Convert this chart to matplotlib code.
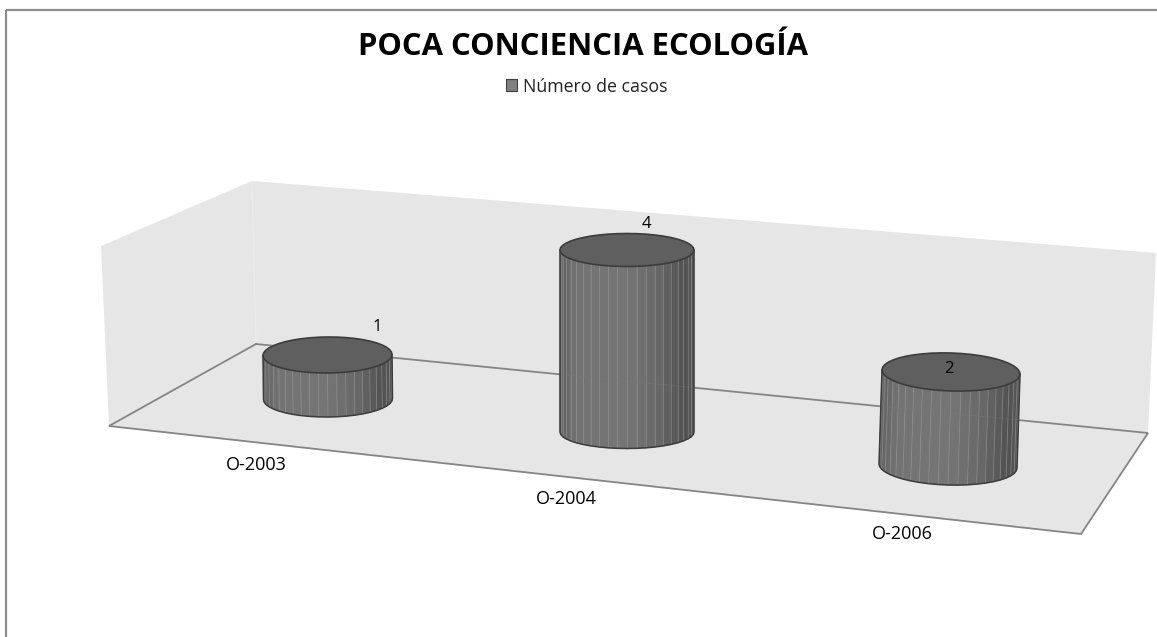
import numpy as np
import matplotlib
matplotlib.use("Agg")
import matplotlib.pyplot as plt
from matplotlib.patches import Polygon, Patch

# ---- data ----
categories = ["O-2003", "O-2004", "O-2006"]
values = [1, 4, 2]
series_name = "Número de casos"
title = "POCA CONCIENCIA ECOLOGÍA"

# ---- pseudo-3D layout (pixels) ----
W, H = 1157, 637
base_x = [328, 627, 948]
base_y = [399, 432, 466]
unit_px = [44.0, 45.5, 47.0]
lean_px = [-0.5, 0.0, 1.5]
radius_x = [64.5, 67, 69]
radius_y = [18, 16.5, 19]
tilt = [-0.008, 0.0, 0.03]
label_off = [(50, -28), (19, -26), (-2, -3)]
cat_xy = [(256, 465), (566, 499), (902, 534)]

fig = plt.figure(figsize=(W / 100, H / 100), dpi=100, facecolor="white")
ax = fig.add_axes([0, 0, 1, 1])
ax.set_xlim(0, W)
ax.set_ylim(H, 0)
ax.axis("off")

FILL = "#e6e6e6"
EDGE = "#858585"
ax.add_patch(Polygon([(101, 246), (252, 181), (256, 344), (109, 426)], fc=FILL, ec="none", zorder=1))
ax.add_patch(Polygon([(252, 181), (1156, 253), (1148, 433), (256, 344)], fc=FILL, ec="none", zorder=1))
ax.plot([252, 256], [181, 344], color="#ececec", lw=0.8, zorder=1.2)
ax.add_patch(Polygon([(109, 426), (256, 344), (1148, 433), (1081, 534)], fc=FILL, ec="none", zorder=1))
ax.plot([256, 109, 1081, 1148, 256], [344, 426, 534, 433, 344], color=EDGE, lw=1.3, zorder=2,
        solid_joinstyle="miter")

# chart frame
ax.plot([5.5, 5.5], [H, 9.5], color="#8c8c8c", lw=1.6, zorder=2, solid_capstyle="butt")
ax.plot([5.5, W], [9.5, 9.5], color="#8c8c8c", lw=1.6, zorder=2, solid_capstyle="butt")


def ring(cx, cy, rx, ry, t, theta):
    x = cx + rx * np.cos(theta)
    y = cy + ry * np.sin(theta) + t * rx * np.cos(theta)
    return x, y


stops_u = [0.0, 0.12, 0.5, 0.75, 0.92, 1.0]
stops_g = [0.38, 0.45, 0.46, 0.40, 0.32, 0.34]
N = 22
for i, v in enumerate(values):
    cx, cy = base_x[i], base_y[i]
    tx, ty = cx + lean_px[i] * v, cy - unit_px[i] * v
    rx, ry, t = radius_x[i], radius_y[i], tilt[i]
    th = np.linspace(np.pi, 0, N + 1)
    bx, by = ring(cx, cy, rx, ry, t, th)
    ux, uy = ring(tx, ty, rx, ry, t, th)
    for k in range(N):
        u = (0.5 * (bx[k] + bx[k + 1]) - cx + rx) / (2 * rx)
        g = np.interp(u, stops_u, stops_g)
        ax.add_patch(Polygon([(bx[k], by[k]), (bx[k + 1], by[k + 1]), (ux[k + 1], uy[k + 1]), (ux[k], uy[k])],
                             fc=(g, g, g), ec=(g, g, g), lw=0.3, zorder=3))
        if k:
            ax.plot([bx[k], ux[k]], [by[k], uy[k]], color="#9a9a9a", lw=0.6, alpha=0.55, zorder=3.1)
    # faint back-edge line seen through the cylinder
    yl = 344 + (cx - rx - 256) * 89 / 892
    yr = 344 + (cx + rx - 256) * 89 / 892
    if yl > ty:
        ax.plot([cx - rx, cx + rx], [yl, yr], color="#808080", lw=0.8, alpha=0.25, zorder=3.2)
    # outline of the side
    ox = np.r_[ux[0], bx, ux[-1]]
    oy = np.r_[uy[0], by, uy[-1]]
    ax.plot(ox, oy, color="#3c3c3c", lw=1.1, zorder=3.5, solid_joinstyle="round")
    # top cap
    th2 = np.linspace(0, 2 * np.pi, 2 * N + 1)[:-1]
    capx, capy = ring(tx, ty, rx, ry, t, th2)
    ax.add_patch(Polygon(np.c_[capx, capy], closed=True, fc="#5f5f5f", ec="#3c3c3c", lw=1.2, zorder=4))
    dx, dy = label_off[i]
    ax.text(tx + dx, ty + dy, str(v), ha="center", va="center", fontsize=12, family="Open Sans",
            color="black", zorder=5)
    ax.text(cat_xy[i][0], cat_xy[i][1], categories[i], ha="center", va="center", fontsize=13,
            family="Open Sans", color="black", zorder=5)

ax.text(583.5, 47, title, ha="center", va="center", fontsize=22.3, fontweight="bold", family="Open Sans",
        color="black", zorder=5)

leg = ax.legend(handles=[Patch(fc="#808080", ec="#404040", lw=0.8, label=series_name)],
                loc="center", bbox_to_anchor=(587 / W, 1 - 86.5 / H), frameon=False, ncol=1,
                prop={"family": "Open Sans", "size": 12.8}, handlelength=0.62, handleheight=0.62,
                handletextpad=0.35, borderpad=0, labelcolor="#222222")

fig.savefig("out.png", dpi=100, facecolor="white")
